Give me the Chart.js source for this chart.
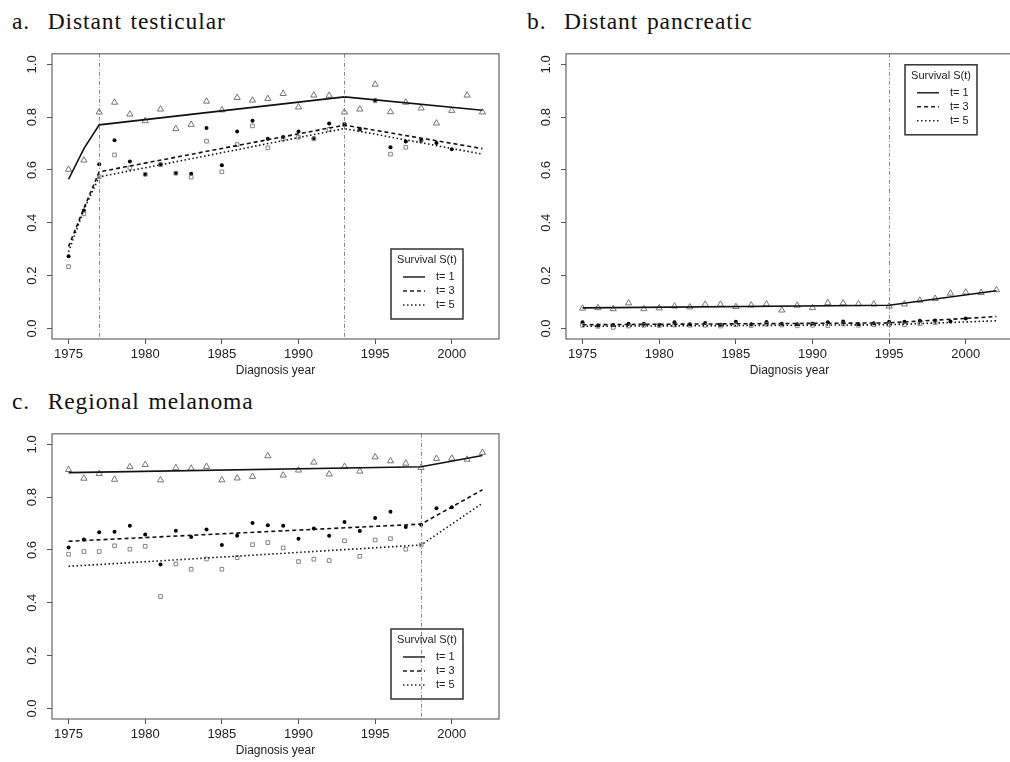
<!DOCTYPE html>
<html>
<head>
<meta charset="utf-8">
<script src="https://cdn.jsdelivr.net/npm/chart.js@4.4.0/dist/chart.umd.min.js"></script>
<style>
  body { margin: 0; background: #fff; width: 1010px; height: 762px; overflow: hidden; position: relative; }
  canvas { position: absolute; }
  .ttl { position: absolute; font-family: "Liberation Serif", serif; font-size: 23.5px; line-height: 22px;
         color: #111; letter-spacing: 0.9px; word-spacing: 2px; white-space: nowrap; }
</style>
</head>
<body>
<div class="ttl" style="left:12px; top:10px;">a.&nbsp; Distant testicular</div>
<div class="ttl" style="left:527px; top:10px;">b.&nbsp; Distant pancreatic</div>
<div class="ttl" style="left:12px; top:390px;">c.&nbsp; Regional melanoma</div>
<canvas id="canvasA" width="510" height="345" style="left:0px; top:40px;"></canvas>
<canvas id="canvasB" width="510" height="345" style="left:514px; top:40px;"></canvas>
<canvas id="canvasC" width="510" height="345" style="left:0px; top:420px;"></canvas>
<script>
// ---------------- data ----------------
const years = [1975, 1976, 1977, 1978, 1979, 1980, 1981, 1982, 1983, 1984, 1985, 1986, 1987, 1988,
               1989, 1990, 1991, 1992, 1993, 1994, 1995, 1996, 1997, 1998, 1999, 2000, 2001, 2002];
const xTicks = [1975, 1980, 1985, 1990, 1995, 2000];
const yTicks = [0, 0.2, 0.4, 0.6, 0.8, 1.0];
const legendTitle = "Survival S(t)";
const legendLabels = ["t= 1", "t= 3", "t= 5"];

// a. distant testicular (observed: t=1 to 2002, t=3 to 2000, t=5 to 1998)
const testObs1 = [0.602, 0.637, 0.819, 0.856, 0.811, 0.786, 0.830, 0.756, 0.772, 0.860, 0.827, 0.874, 0.864, 0.870,
                  0.889, 0.838, 0.883, 0.882, 0.819, 0.830, 0.924, 0.820, 0.856, 0.834, 0.777, 0.825, 0.883, 0.819];
const testObs3 = [0.273, 0.447, 0.622, 0.713, 0.632, 0.583, 0.622, 0.588, 0.586, 0.759, 0.618, 0.746, 0.786, 0.718,
                  0.725, 0.746, 0.720, 0.776, 0.773, 0.754, 0.864, 0.686, 0.708, 0.714, 0.702, 0.679];
const testObs5 = [0.234, 0.434, 0.574, 0.657, 0.608, 0.584, 0.620, 0.588, 0.573, 0.709, 0.593, 0.696, 0.767, 0.684,
                  0.717, 0.724, 0.718, 0.754, 0.772, 0.754, 0.862, 0.660, 0.686, 0.712];
const testFitYears = [1975, 1976, 1977, 1993, 2002];
const testFit1 = [0.565, 0.681, 0.771, 0.877, 0.826];
const testFit3 = [0.310, 0.455, 0.593, 0.770, 0.681];
const testFit5 = [0.290, 0.450, 0.574, 0.757, 0.660];
const testJoins = [1977, 1993];

// b. distant pancreatic
const pancObs1 = [0.076, 0.078, 0.074, 0.096, 0.074, 0.077, 0.084, 0.081, 0.091, 0.091, 0.082, 0.088, 0.092, 0.069,
                  0.087, 0.078, 0.097, 0.096, 0.093, 0.092, 0.084, 0.092, 0.106, 0.113, 0.133, 0.137, 0.135, 0.146];
const pancObs3 = [0.023, 0.011, 0.013, 0.018, 0.018, 0.014, 0.023, 0.016, 0.021, 0.014, 0.025, 0.016, 0.024, 0.018,
                  0.016, 0.019, 0.023, 0.026, 0.016, 0.020, 0.025, 0.025, 0.029, 0.030, 0.026, 0.038];
const pancObs5 = [0.012, 0.008, 0.004, 0.009, 0.012, 0.011, 0.013, 0.012, 0.012, 0.009, 0.014, 0.011, 0.016, 0.013,
                  0.010, 0.012, 0.011, 0.017, 0.012, 0.014, 0.015, 0.014, 0.018, 0.022];
const pancFitYears = [1975, 1995, 2002];
const pancFit1 = [0.078, 0.088, 0.143];
const pancFit3 = [0.014, 0.021, 0.045];
const pancFit5 = [0.008, 0.014, 0.029];
const pancJoins = [1995];

// c. regional melanoma
const melObs1 = [0.904, 0.871, 0.889, 0.867, 0.915, 0.923, 0.865, 0.911, 0.909, 0.916, 0.865, 0.872, 0.878, 0.956,
                 0.883, 0.902, 0.932, 0.887, 0.916, 0.898, 0.952, 0.937, 0.928, 0.912, 0.946, 0.947, 0.943, 0.969];
const melObs3 = [0.609, 0.640, 0.667, 0.669, 0.692, 0.659, 0.545, 0.673, 0.649, 0.678, 0.619, 0.654, 0.702, 0.694,
                 0.692, 0.643, 0.681, 0.654, 0.706, 0.672, 0.721, 0.745, 0.687, 0.696, 0.758, 0.762];
const melObs5 = [0.584, 0.594, 0.594, 0.616, 0.603, 0.614, 0.424, 0.547, 0.527, 0.566, 0.527, 0.571, 0.620, 0.628,
                 0.608, 0.556, 0.565, 0.560, 0.635, 0.576, 0.638, 0.643, 0.603, 0.619];
const melFitYears = [1975, 1998, 2002];
const melFit1 = [0.893, 0.915, 0.958];
const melFit3 = [0.633, 0.698, 0.828];
const melFit5 = [0.538, 0.619, 0.777];
const melJoins = [1998];

// ---------------- drawing ----------------
const lineDashes = [[], [4, 3], [1.5, 2.5]];
const sans = "'Liberation Sans', Arial, sans-serif";

function pts(xs, ys) {
  return ys.map((v, i) => ({ x: xs[i], y: v }));
}

// box, joinpoint lines and the R-style legend
const rPlot = {
  id: "rPlot",
  afterDatasetsDraw(chart, args, opts) {
    const ctx = chart.ctx;
    const a = chart.chartArea;
    const x = chart.scales.x;
    ctx.save();
    ctx.strokeStyle = "#888";
    ctx.lineWidth = 1;
    ctx.setLineDash([4, 2, 1, 2]);
    opts.joins.forEach((j) => {
      const px = Math.round(x.getPixelForValue(j)) + 0.5;
      ctx.beginPath();
      ctx.moveTo(px, a.top);
      ctx.lineTo(px, a.bottom);
      ctx.stroke();
    });
    ctx.setLineDash([]);
    ctx.strokeStyle = "#666";
    ctx.lineWidth = 1.2;
    ctx.strokeRect(a.left, a.top, a.right - a.left, a.bottom - a.top);

    const w = 72, h = 70;
    const lx = a.right - opts.legend.right - w;
    const ly = opts.legend.top != null ? a.top + opts.legend.top : a.bottom - opts.legend.bottom - h;
    ctx.strokeStyle = "#333";
    ctx.lineWidth = 1.5;
    ctx.strokeRect(lx, ly, w, h);
    ctx.fillStyle = "#222";
    ctx.font = "11px " + sans;
    ctx.textBaseline = "middle";
    ctx.textAlign = "center";
    ctx.fillText(legendTitle, lx + w / 2, ly + 11);
    ctx.textAlign = "left";
    legendLabels.forEach((lab, i) => {
      const yy = ly + 28 + i * 14;
      ctx.setLineDash(lineDashes[i]);
      ctx.lineWidth = 1.5;
      ctx.strokeStyle = "#222";
      ctx.beginPath();
      ctx.moveTo(lx + 12, yy);
      ctx.lineTo(lx + 34, yy);
      ctx.stroke();
      ctx.setLineDash([]);
      ctx.fillText(lab, lx + 45, yy);
    });
    ctx.restore();
  },
};

function makeChart(id, obs1, obs3, obs5, fitYears, fit1, fit3, fit5, joins, legendPos) {
  const fitStyle = (i) => ({
    type: "line",
    showLine: true,
    borderColor: "#111",
    borderWidth: 1.6,
    borderDash: lineDashes[i],
    pointRadius: 0,
    fill: false,
  });
  const data = {
    datasets: [
      { ...fitStyle(0), data: pts(fitYears, fit1) },
      { ...fitStyle(1), data: pts(fitYears, fit3) },
      { ...fitStyle(2), data: pts(fitYears, fit5) },
      {
        data: pts(years, obs1),
        pointStyle: "triangle",
        pointRadius: 3.6,
        borderColor: "#666",
        borderWidth: 0.9,
        backgroundColor: "rgba(0,0,0,0)",
      },
      {
        data: pts(years, obs5),
        pointStyle: "rect",
        pointRadius: 2.6,
        borderColor: "#777",
        borderWidth: 0.9,
        backgroundColor: "rgba(0,0,0,0)",
      },
      {
        data: pts(years, obs3),
        pointStyle: "circle",
        pointRadius: 2,
        borderWidth: 0,
        backgroundColor: "#000",
      },
    ],
  };
  const options = {
    responsive: false,
    animation: false,
    devicePixelRatio: 1,
    layout: { padding: { top: 13, right: 11, left: 0, bottom: 0 } },
    plugins: {
      legend: { display: false },
      tooltip: { enabled: false },
      rPlot: { joins: joins, legend: legendPos },
    },
    scales: {
      x: {
        type: "linear",
        min: 1973.92,
        max: 2003.08,
        afterBuildTicks: (s) => { s.ticks = xTicks.map((v) => ({ value: v })); },
        afterFit: (s) => { s.height = 46; },
        grid: { drawOnChartArea: false, tickLength: 5, color: "#555" },
        border: { display: false },
        ticks: { padding: 3, color: "#222", font: { family: sans, size: 13 }, callback: (v) => String(v) },
        title: { display: true, text: "Diagnosis year", color: "#222", font: { family: sans, size: 12 }, padding: { top: 0, bottom: 7 } },
      },
      y: {
        min: -0.04,
        max: 1.04,
        afterBuildTicks: (s) => { s.ticks = yTicks.map((v) => ({ value: v })); },
        afterFit: (s) => { s.width = 52; },
        grid: { drawOnChartArea: false, tickLength: 5, color: "#555" },
        border: { display: false },
        ticks: {
          minRotation: 90,
          maxRotation: 90,
          crossAlign: "center",
          padding: 6,
          color: "#222",
          font: { family: sans, size: 13 },
          callback: (v) => v.toFixed(1),
        },
      },
    },
  };
  return new Chart(document.getElementById(id), { type: "scatter", data: data, options: options, plugins: [rPlot] });
}

makeChart("canvasA", testObs1, testObs3, testObs5, testFitYears, testFit1, testFit3, testFit5, testJoins, { right: 36, bottom: 20 });
makeChart("canvasB", pancObs1, pancObs3, pancObs5, pancFitYears, pancFit1, pancFit3, pancFit5, pancJoins, { right: 36, top: 11 });
makeChart("canvasC", melObs1, melObs3, melObs5, melFitYears, melFit1, melFit3, melFit5, melJoins, { right: 36, bottom: 20 });
</script>
</body>
</html>
